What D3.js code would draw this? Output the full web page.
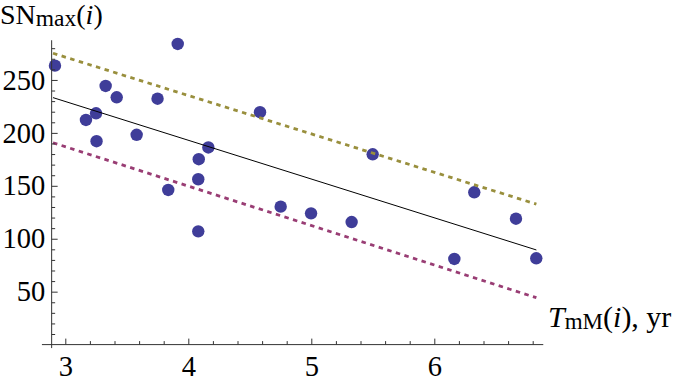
<!DOCTYPE html>
<html>
<head>
<meta charset="utf-8">
<script src="https://cdn.jsdelivr.net/npm/d3@7"></script>
<style>
  body { margin: 0; background: #fff; }
  text { font-family: "Liberation Serif", "Times New Roman", serif; fill: #000; }
</style>
</head>
<body>
<div id="chart"></div>
<script>
// Data
const xTicks = [3, 4, 5, 6]
const yTicks = [50, 100, 150, 200, 250]
const tmM = [2.916, 3.168, 3.250, 3.254, 3.328, 3.418, 3.580, 3.750, 3.837, 3.914, 4.081, 4.081,
  4.085, 4.163, 4.583, 4.751, 4.998, 5.328, 5.499, 6.163, 6.325, 6.664, 6.829]
const snMax = [263.5, 212.2, 218.5, 192.1, 244.3, 233.6, 198.2, 232.3, 146.1, 284.0, 107.0, 156.2,
  175.1, 186.2, 219.5, 130.3, 124.0, 115.8, 179.8, 80.9, 143.9, 118.9, 81.5]
const fitX = [2.9, 6.83]
const fitY = [233.3, 89.4]
const upperY = [275.2, 132.7]
const lowerY = [190.7, 44.3]

function draw() {
  let dimensions = {
    width: 685,
    height: 378,
  }

  const svg = d3.select('#chart')
    .append('svg')
    .attr('width', dimensions.width)
    .attr('height', dimensions.height)

  // Scales
  const xScale = d3.scaleLinear()
    .domain([2.8, 6.9])
    .range([40.7, 545])
  const yScale = d3.scaleLinear()
    .domain([0, 290])
    .range([344.6, 37.6])

  const x0 = 2.889

  // Points
  svg.append('g')
    .selectAll('circle')
    .data(tmM.map((t, i) => [t, snMax[i]]))
    .join('circle')
    .attr('cx', d => xScale(d[0]))
    .attr('cy', d => yScale(d[1]))
    .attr('r', 6.2)
    .attr('fill', '#3f3d99')

  // Lines
  const line = d3.line()
    .x(d => xScale(d[0]))
    .y(d => yScale(d[1]))

  const lines = [
    { ys: fitY, color: '#000', width: 1, dash: null },
    { ys: upperY, color: '#998f3d', width: 2.8, dash: '4.5,4.5' },
    { ys: lowerY, color: '#993d74', width: 2.8, dash: '4.5,4.5' },
  ]
  svg.append('g')
    .selectAll('path')
    .data(lines)
    .join('path')
    .attr('d', d => line(fitX.map((x, i) => [x, d.ys[i]])))
    .attr('fill', 'none')
    .attr('stroke', d => d.color)
    .attr('stroke-width', d => d.width)
    .attr('stroke-dasharray', d => d.dash)

  // Axes
  const xMinor = d3.range(3.2, 6.9, 0.2).filter(v => Math.abs(v - Math.round(v)) > 0.01)
  const yMinor = d3.range(10, 290, 10).filter(v => v % 50 !== 0)

  const xAxisG = svg.append('g')
    .attr('transform', `translate(0, ${yScale(0)})`)
  xAxisG.append('g')
    .call(d3.axisBottom(xScale).tickValues(xMinor).tickSize(-3.5).tickFormat(''))
  xAxisG.append('g')
    .call(d3.axisBottom(xScale).tickValues(xTicks).tickSize(-6).tickPadding(11).tickFormat(d3.format('d')))

  const yAxisG = svg.append('g')
    .attr('transform', `translate(${xScale(x0)}, 0)`)
  yAxisG.append('g')
    .call(d3.axisLeft(yScale).tickValues(yMinor).tickSize(-3.5).tickFormat(''))
  yAxisG.append('g')
    .call(d3.axisLeft(yScale).tickValues(yTicks).tickSize(-6).tickPadding(6.5).tickFormat(d3.format('d')))

  svg.selectAll('.domain').remove()
  svg.selectAll('.tick line').attr('stroke', '#333')
  svg.selectAll('g').attr('font-family', '"Liberation Serif", serif')
  svg.selectAll('.tick text')
    .style('font-family', '"Liberation Serif", serif')
    .style('font-size', '28.5px')
    .attr('fill', '#000')

  svg.append('line')
    .attr('x1', xScale(2.81)).attr('x2', xScale(6.886))
    .attr('y1', yScale(0)).attr('y2', yScale(0))
    .attr('stroke', '#333')
  svg.append('line')
    .attr('x1', xScale(x0)).attr('x2', xScale(x0))
    .attr('y1', yScale(-3.3)).attr('y2', yScale(287.5))
    .attr('stroke', '#333')

  // Labels
  const yLabel = svg.append('text')
    .attr('x', 0)
    .attr('y', 24)
    .style('font-size', '28px')
  yLabel.append('tspan').text('SN')
  yLabel.append('tspan').attr('dy', 2).style('font-size', '23.5px').text('max')
  yLabel.append('tspan').attr('dy', -2).text('(')
  yLabel.append('tspan').style('font-style', 'italic').text('i')
  yLabel.append('tspan').text(')')

  const xLabel = svg.append('text')
    .attr('x', 548)
    .attr('y', 327)
    .style('font-size', '30px')
  xLabel.append('tspan').style('font-style', 'italic').text('T')
  xLabel.append('tspan').attr('dy', 2).style('font-size', '23px').text('mM')
  xLabel.append('tspan').attr('dy', -2).text('(')
  xLabel.append('tspan').style('font-style', 'italic').text('i')
  xLabel.append('tspan').text('), yr')
}

draw()
</script>
</body>
</html>
